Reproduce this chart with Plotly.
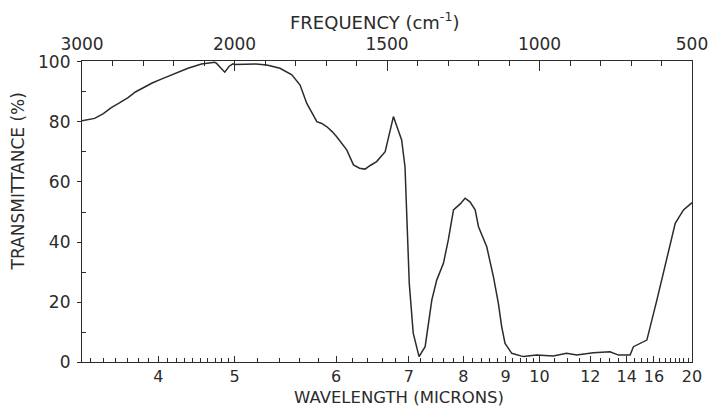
import plotly.graph_objects as go

# Spectrum: wavenumber (cm^-1) and transmittance (%)
wavenumber = [3000, 2917, 2860, 2808, 2760, 2698, 2650, 2589, 2540, 2480, 2430, 2392,
              2305, 2217, 2130, 2119, 2095, 2064, 2035, 2010, 2000, 1966, 1930, 1894,
              1851, 1812, 1785, 1763, 1730, 1714, 1697, 1680, 1665, 1632, 1610, 1590,
              1572, 1555, 1534, 1506, 1479, 1452, 1441, 1435, 1427, 1414, 1395, 1375,
              1353, 1337, 1315, 1299, 1282, 1260, 1244, 1228, 1211, 1200, 1173, 1151,
              1135, 1124, 1113, 1091, 1053, 1009, 955, 911, 878, 823, 769, 741, 703,
              692, 648, 615, 583, 555, 528, 500]
transmittance = [80.4, 81.2, 82.8, 84.8, 86.2, 88.1, 90.0, 91.8, 93.0, 94.3, 95.3, 96.2,
                 97.9, 99.3, 99.9, 99.6, 98.4, 96.6, 98.6, 99.4, 99.2, 99.2, 99.3, 99.0,
                 97.9, 95.7, 92.3, 86.2, 80.1, 79.5, 78.4, 76.8, 75.1, 70.7, 65.7, 64.6,
                 64.3, 65.5, 66.8, 70.1, 81.8, 74.0, 65.1, 48.4, 26.2, 9.6, 1.8, 5.1,
                 20.7, 27.3, 32.9, 40.7, 50.7, 52.7, 54.6, 53.4, 50.7, 45.1, 38.4, 28.4,
                 19.6, 11.8, 6.2, 2.9, 1.8, 2.3, 2.0, 2.9, 2.3, 3.1, 3.4, 2.3, 2.3,
                 5.1, 7.3, 20.7, 34.0, 46.2, 50.7, 53.1]

wavelength_labels = [4, 5, 6, 7, 8, 9, 10, 12, 14, 16, 20]
frequency_labels = [3000, 2000, 1500, 1000, 500]
frequency_minor = [2800, 2600, 2400, 2200] + list(range(1900, 500, -100))
wavelength_minor = ([round(3.4 + 0.1 * i, 2) for i in range(17)]
                    + [round(5.2 + 0.2 * i, 2) for i in range(24)]
                    + [10.5 + 0.5 * i for i in range(20)])
y_major = [0, 20, 40, 60, 80, 100]
y_minor = [10, 30, 50, 70, 90]


def pos(nu):
    # chart paper: 3000-2000 cm^-1 at half the scale of 2000-500 cm^-1
    return 3000 - nu if nu >= 2000 else 1000 + 2 * (2000 - nu)


xs = [pos(n) for n in wavenumber]
FONT = "DejaVu Sans"
INK = "#2b2b2b"

fig = go.Figure()
fig.add_trace(go.Scatter(x=xs, y=transmittance, mode="lines",
                         line=dict(color=INK, width=1.5), hoverinfo="skip",
                         showlegend=False))
fig.add_trace(go.Scatter(x=xs, y=transmittance, mode="lines", xaxis="x2",
                         line=dict(color="rgba(0,0,0,0)", width=0), hoverinfo="skip",
                         showlegend=False))

fig.update_layout(
    width=714, height=407,
    margin=dict(l=82, r=22, t=61, b=45, autoexpand=False),
    paper_bgcolor="white", plot_bgcolor="white",
    font=dict(family=FONT, size=17, color=INK),
    xaxis=dict(range=[0, 4000], showgrid=False, zeroline=False, automargin=False,
               showline=True, linecolor=INK, linewidth=1.2,
               tickmode="array",
               tickvals=[pos(10000 / w) for w in wavelength_labels],
               ticktext=[str(w) for w in wavelength_labels],
               tickfont=dict(size=16),
               ticks="inside", ticklen=6, tickcolor=INK, tickwidth=1,
               ticklabelstandoff=0,
               minor=dict(tickmode="array",
                          tickvals=[pos(10000 / w) for w in wavelength_minor],
                          ticks="inside", ticklen=4, tickcolor=INK, tickwidth=1)),
    xaxis2=dict(range=[0, 4000], overlaying="x", side="top", anchor="y",
                showgrid=False, zeroline=False, automargin=False,
                showline=True, linecolor=INK, linewidth=1.2,
                tickmode="array",
                tickvals=[pos(f) for f in frequency_labels],
                ticktext=[str(f) for f in frequency_labels],
                ticks="inside", ticklen=10, tickcolor=INK, tickwidth=1,
                ticklabelstandoff=3,
                minor=dict(tickmode="array",
                           tickvals=[pos(f) for f in frequency_minor],
                           ticks="inside", ticklen=5, tickcolor=INK, tickwidth=1)),
    yaxis=dict(range=[0, 100.33], showgrid=False, zeroline=False, automargin=False,
               showline=True, mirror=True, linecolor=INK, linewidth=1.2,
               tickmode="array", tickvals=y_major,
               ticktext=[str(v) for v in y_major],
               ticks="outside", ticklen=4, tickcolor=INK, tickwidth=1,
               ticklabelstandoff=3,
               minor=dict(tickmode="array", tickvals=y_minor,
                          ticks="inside", ticklen=4, tickcolor=INK, tickwidth=1)),
    annotations=[
        dict(text="FREQUENCY (cm<sup>-1</sup>)", xref="paper", yref="paper",
             x=0.479, y=1.0, yshift=40, showarrow=False,
             xanchor="center", yanchor="middle", font=dict(size=18)),
        dict(text="WAVELENGTH (MICRONS)", xref="paper", yref="paper",
             x=0.52, y=0.0, yshift=-35, showarrow=False,
             xanchor="center", yanchor="middle", font=dict(size=16.5)),
        dict(text="TRANSMITTANCE (%)", xref="paper", yref="paper",
             x=0.0, y=0.6, xshift=-64, showarrow=False, textangle=-90,
             xanchor="center", yanchor="middle", font=dict(size=17)),
    ],
)

fig.write_html("out.html")
